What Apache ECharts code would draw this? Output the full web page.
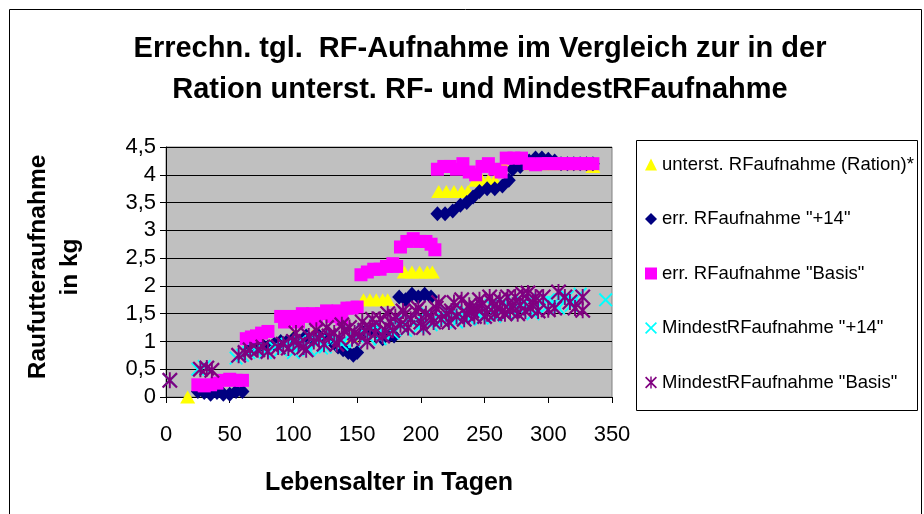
<!DOCTYPE html>
<html>
<head>
<meta charset="utf-8">
<script src="https://cdn.jsdelivr.net/npm/echarts@6/dist/echarts.min.js"></script>
<style>
  html, body { margin: 0; padding: 0; background: #fff; }
  #chart { width: 924px; height: 514px; }
</style>
</head>
<body>
<div id="chart"></div>
<script>
// Werte: [Lebensalter in Tagen, kg]
var seriesNames = [
  'unterst. RFaufnahme (Ration)*',
  'err. RFaufnahme "+14"',
  'err. RFaufnahme "Basis"',
  'MindestRFaufnahme "+14"',
  'MindestRFaufnahme "Basis"'
];

var rationData = [
  [17, 0], [100, 1.1], [115, 1.1], [130, 1.1], [145, 1.1],
  [155, 1.75], [160, 1.75], [165, 1.75], [170, 1.75], [174, 1.75],
  [187, 2.25], [193, 2.25], [199, 2.25], [205, 2.25], [209, 2.25],
  [214, 3.7], [220, 3.7], [226, 3.7], [232, 3.7], [237, 3.7],
  [243, 3.9], [248, 3.9], [253, 3.9], [258, 3.9],
  [265, 4.2], [275, 4.2], [285, 4.2], [295, 4.2], [305, 4.2], [315, 4.2], [325, 4.2], [335, 4.15]
];

var plus14Data = [
  [25, 0.1], [30, 0.08], [35, 0.05], [40, 0.08], [45, 0.05], [50, 0.05], [55, 0.1], [60, 0.1],
  [65, 0.85], [70, 0.9], [75, 0.95], [80, 0.9], [85, 0.95], [90, 1.0], [95, 1.0], [100, 1.05],
  [105, 1.0], [110, 1.1], [115, 1.05], [120, 1.1], [125, 1.05], [130, 1.0], [135, 0.9],
  [139, 0.85], [143, 0.8], [147, 0.75], [150, 0.8],
  [155, 1.15], [160, 1.2], [165, 1.15], [170, 1.05], [175, 1.1], [179, 1.1],
  [183, 1.8], [188, 1.75], [193, 1.85], [198, 1.8], [203, 1.85], [208, 1.8],
  [213, 3.3], [219, 3.3], [225, 3.35], [231, 3.45], [236, 3.5], [241, 3.6],
  [246, 3.7], [252, 3.75], [258, 3.75], [264, 3.8], [269, 3.9],
  [272, 4.1], [278, 4.15], [285, 4.25], [290, 4.3], [295, 4.3], [300, 4.28],
  [305, 4.25], [310, 4.2], [315, 4.2], [320, 4.2], [325, 4.2], [330, 4.2], [335, 4.2]
];

var basisData = [
  [25, 0.22], [30, 0.2], [35, 0.22], [40, 0.25], [45, 0.3], [50, 0.32], [55, 0.3], [60, 0.3],
  [63, 1.05], [67, 1.08], [71, 1.1], [75, 1.15], [80, 1.18],
  [90, 1.45], [93, 1.35], [97, 1.4], [100, 1.45], [104, 1.35], [107, 1.5], [110, 1.45],
  [115, 1.5], [118, 1.38], [122, 1.5], [126, 1.55], [130, 1.45], [135, 1.55], [138, 1.4],
  [142, 1.6], [146, 1.6], [150, 1.62],
  [153, 2.2], [158, 2.25], [163, 2.3], [168, 2.3], [173, 2.35], [178, 2.4], [181, 2.35],
  [184, 2.7], [189, 2.8], [194, 2.85], [199, 2.8], [204, 2.8], [208, 2.75], [211, 2.65],
  [213, 4.1], [218, 4.15], [223, 4.15], [228, 4.1], [233, 4.2], [238, 4.05], [243, 4.0],
  [248, 4.15], [253, 4.2], [258, 4.1], [263, 4.05], [267, 4.3], [273, 4.3], [279, 4.3],
  [285, 4.2], [290, 4.18], [295, 4.2], [300, 4.2], [305, 4.2], [310, 4.2], [315, 4.2],
  [320, 4.2], [325, 4.2], [330, 4.2], [335, 4.2]
];

var mindestPlus14Data = [
  [3, 0.3], [25, 0.5], [30, 0.55], [55, 0.7], [60, 0.75], [65, 0.8], [70, 0.85], [78, 0.8],
  [85, 0.9], [90, 0.85], [95, 0.95], [100, 0.9], [105, 1.0], [110, 0.95], [115, 1.05],
  [120, 1.0], [125, 0.9], [130, 1.1], [135, 1.05], [140, 1.0], [145, 1.15], [150, 1.1],
  [155, 1.2], [160, 1.05], [165, 1.3], [170, 1.15], [175, 1.25], [180, 1.35], [185, 1.3],
  [190, 1.4], [195, 1.35], [200, 1.45], [205, 1.5], [210, 1.4], [215, 1.45], [220, 1.55],
  [225, 1.5], [230, 1.45], [235, 1.55], [240, 1.6], [245, 1.5], [250, 1.55], [255, 1.65],
  [260, 1.6], [265, 1.7], [270, 1.6], [275, 1.65], [280, 1.7], [285, 1.75], [290, 1.65],
  [295, 1.7], [300, 1.75], [305, 1.7], [310, 1.75], [315, 1.8], [320, 1.75], [325, 1.85],
  [100, 0.8], [112, 0.85], [122, 0.88], [138, 0.95], [148, 1.0], [158, 1.0], [168, 1.05],
  [178, 1.15], [188, 1.2], [198, 1.25], [208, 1.3], [218, 1.35], [228, 1.35], [238, 1.4],
  [248, 1.42], [258, 1.45], [268, 1.5], [278, 1.55], [288, 1.5], [298, 1.6], [308, 1.6],
  [318, 1.65], [345, 1.75]
];

var mindestBasisData = [
  [3, 0.3], [27, 0.5], [32, 0.52], [36, 0.48], [57, 0.75], [62, 0.8], [66, 0.85], [72, 0.85],
  [76, 0.9], [80, 0.82], [88, 0.9], [92, 0.95], [96, 0.88], [100, 1.0], [104, 0.95],
  [108, 0.9], [112, 1.1], [116, 1.0], [120, 1.05], [124, 0.95], [128, 1.1], [132, 1.15],
  [136, 1.05], [140, 1.2], [144, 1.25], [148, 1.15], [152, 1.1], [156, 1.2], [160, 1.25],
  [164, 1.15], [168, 1.4], [172, 1.2], [176, 1.35], [180, 1.45], [184, 1.3], [188, 1.5],
  [192, 1.4], [196, 1.55], [200, 1.35], [204, 1.5], [208, 1.45], [212, 1.6], [216, 1.4],
  [220, 1.5], [224, 1.55], [228, 1.45], [232, 1.75], [236, 1.5], [240, 1.55], [244, 1.6],
  [248, 1.65], [252, 1.5], [256, 1.7], [260, 1.6], [264, 1.55], [268, 1.8], [272, 1.65],
  [276, 1.5], [280, 1.85], [284, 1.87], [288, 1.7], [292, 1.55], [296, 1.8], [300, 1.57],
  [305, 1.6], [308, 1.89], [313, 1.8], [317, 1.71], [321, 1.6], [327, 1.8], [327, 1.56],
  [102, 1.15], [110, 0.85], [118, 1.2], [126, 1.25], [134, 0.95], [138, 1.3], [146, 1.05],
  [154, 1.35], [158, 1.0], [162, 1.4], [170, 1.1], [174, 1.5], [178, 1.2], [186, 1.55],
  [190, 1.25], [198, 1.6], [202, 1.25], [210, 1.35], [214, 1.7], [222, 1.35], [226, 1.7],
  [234, 1.4], [238, 1.65], [242, 1.45], [246, 1.75], [250, 1.45], [254, 1.8], [258, 1.5],
  [262, 1.75], [266, 1.5], [270, 1.55], [274, 1.8], [278, 1.65], [282, 1.55], [286, 1.6],
  [290, 1.8]
];

var xTicks = { min: 0, max: 350, interval: 50 };
var yTicks = { min: 0, max: 4.5, interval: 0.5 };

// Marker-Formen wie in Excel
var xMarker = 'path://M0,1 L1,0 L5,4 L9,0 L10,1 L6,5 L10,9 L9,10 L5,6 L1,10 L0,9 L4,5 Z';
var starMarker = 'path://M0,1 L1,0 L5,4 L9,0 L10,1 L6,5 L10,9 L9,10 L5,6 L1,10 L0,9 L4,5 Z M4.4,0 L5.6,0 L5.6,10 L4.4,10 Z';

var font = 'Liberation Sans, Arial, sans-serif';

var chart = echarts.init(document.getElementById('chart'));
var option = {
  animation: false,
  backgroundColor: '#ffffff',
  title: {
    text: 'Errechn. tgl.  RF-Aufnahme im Vergleich zur in der\nRation unterst. RF- und MindestRFaufnahme',
    left: 475,
    top: 23,
    textAlign: 'center',
    textStyle: { fontFamily: font, fontSize: 29, fontWeight: 'bold', color: '#000', lineHeight: 41 }
  },
  graphic: [
    { type: 'rect', shape: { x: 9.5, y: 9.5, width: 912, height: 520 },
      style: { fill: 'none', stroke: '#000', lineWidth: 1 }, z: -1 },
    { type: 'rect', shape: { x: 636.5, y: 140.5, width: 281, height: 270 },
      style: { fill: '#fff', stroke: '#000', lineWidth: 1 }, z: -1 }
  ],
  legend: {
    orient: 'vertical',
    left: 645,
    top: 155,
    padding: 0,
    itemWidth: 12,
    itemHeight: 12,
    itemGap: 35.5,
    textStyle: { fontFamily: font, fontSize: 18.5, color: '#000' },
    data: seriesNames
  },
  grid: {
    left: 166, right: 312, top: 147, bottom: 117,
    show: true, backgroundColor: '#c0c0c0', borderColor: '#808080', borderWidth: 1
  },
  xAxis: {
    type: 'value',
    min: xTicks.min, max: xTicks.max, interval: xTicks.interval,
    name: 'Lebensalter in Tagen',
    nameLocation: 'middle',
    nameGap: 74,
    nameTextStyle: { fontFamily: font, fontSize: 25, fontWeight: 'bold', color: '#000' },
    axisLine: { onZero: false, lineStyle: { color: '#000', width: 1 } },
    axisTick: { show: true, length: 6, lineStyle: { color: '#000' } },
    axisLabel: { margin: 27, fontFamily: font, fontSize: 22, color: '#000' },
    splitLine: { show: false }
  },
  yAxis: {
    type: 'value',
    min: yTicks.min, max: yTicks.max, interval: yTicks.interval,
    name: 'Raufutteraufnahme\nin kg',
    nameLocation: 'middle',
    nameGap: 80,
    nameRotate: 90,
    nameTextStyle: {
      fontFamily: font, fontSize: 24.5, fontWeight: 'bold', color: '#000', lineHeight: 32,
      padding: [0, 0, 0, 10]
    },
    axisLine: { show: true, onZero: false, lineStyle: { color: '#000', width: 1 } },
    axisTick: { show: true, length: 6, lineStyle: { color: '#000' } },
    axisLabel: {
      margin: 10, fontFamily: font, fontSize: 22, color: '#000',
      formatter: function (v) { return String(v).replace('.', ','); }
    },
    splitLine: { show: true, lineStyle: { color: '#000', width: 1 } }
  },
  series: [
    { name: seriesNames[0], type: 'scatter', data: rationData,
      symbol: 'triangle', symbolSize: [15, 13], itemStyle: { color: '#ffff00', opacity: 1 } },
    { name: seriesNames[1], type: 'scatter', data: plus14Data,
      symbol: 'diamond', symbolSize: [14, 15], itemStyle: { color: '#000080', opacity: 1 } },
    { name: seriesNames[2], type: 'scatter', data: basisData,
      symbol: 'rect', symbolSize: 13, itemStyle: { color: '#ff00ff', opacity: 1 } },
    { name: seriesNames[3], type: 'scatter', data: mindestPlus14Data,
      symbol: xMarker, symbolSize: 14, itemStyle: { color: '#00ffff', opacity: 1 } },
    { name: seriesNames[4], type: 'scatter', data: mindestBasisData,
      symbol: starMarker, symbolSize: 16, itemStyle: { color: '#800080', opacity: 1 } }
  ]
};
chart.setOption(option);
</script>
</body>
</html>
